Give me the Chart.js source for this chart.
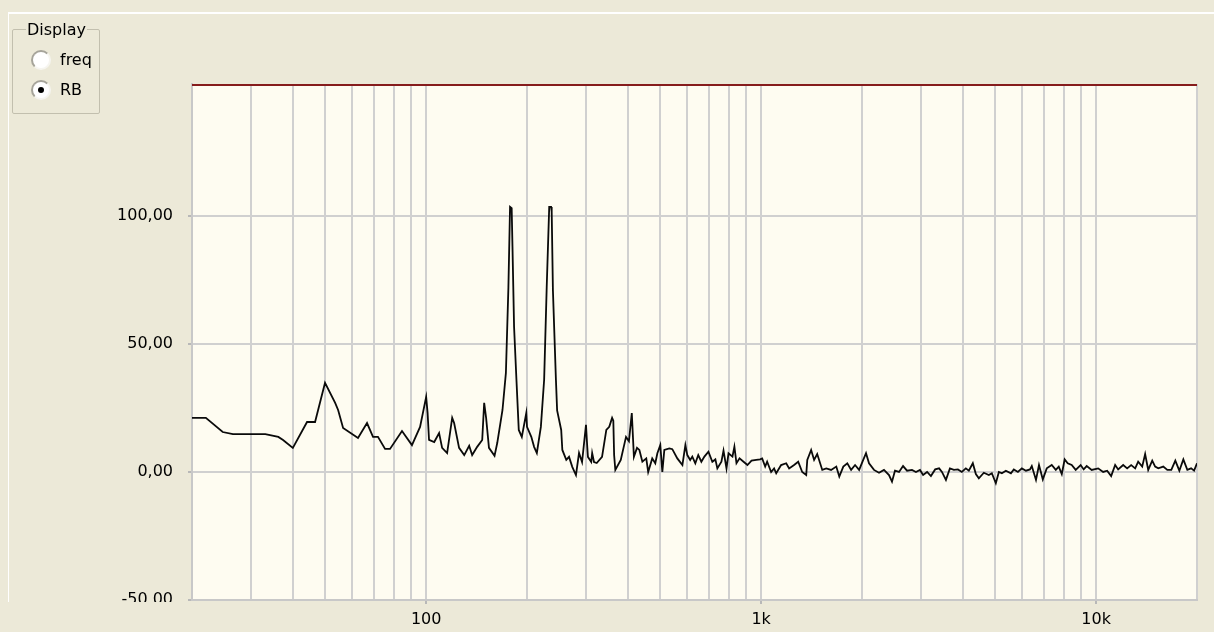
<!DOCTYPE html>
<html lang="en">
<head>
<meta charset="UTF-8">
<title>RB spectrum</title>
<script src="https://cdn.jsdelivr.net/npm/chart.js"></script>
<style>
  body { margin: 0; background: #ECE9D8; font-family: "DejaVu Sans", sans-serif; }
  .wrap { position: relative; width: 1214px; height: 632px; overflow: hidden; }
  .panel { position: absolute; left: 8px; top: 12px; right: 0; bottom: 0;
           border-top: 2px solid #fff; border-left: 1px solid #fff; }
  #chart { position: absolute; left: 0; top: 0; }
  .group { position: absolute; left: 12px; top: 29px; width: 86px; height: 83px;
           border: 1px solid #c2bfae; border-radius: 2px; }
  .group .title { position: absolute; left: 13px; top: -10px; background: #ECE9D8;
                  padding: 0 1px; font-size: 16px; line-height: 19px; color: #000; }
  .radio { position: absolute; left: 18px; width: 16px; height: 16px; border-radius: 50%;
           background: #fff; border: 2px solid; border-color: #a6a49a #f6f5f0 #f6f5f0 #a6a49a; }
  .radio.on::after { content: ""; position: absolute; left: 5px; top: 5px; width: 6px; height: 6px;
                     border-radius: 50%; background: #000; }
  .lbl { position: absolute; left: 47px; font-size: 16px; line-height: 19px; color: #000; }
</style>
</head>
<body>
<div class="wrap">
  <div class="panel"></div>
  <canvas id="chart" width="1214" height="632"></canvas>
  <div class="group">
    <span class="title">Display</span>
    <span class="radio" style="top:20px"></span><span class="lbl" style="top:20px">freq</span>
    <span class="radio on" style="top:50px"></span><span class="lbl" style="top:50px">RB</span>
  </div>
</div>

<script>
  // frequency (Hz) and RB values
  const freq = [20, 22, 24.7, 26.5, 33.1, 36.2, 37.4, 40, 44.1, 46.6, 49.9, 53.5, 54.6, 56.5, 62.6, 66.6, 69.4, 71.8, 75.4, 78,
    84.7, 90.7, 95.9, 100, 101, 102, 105.7, 109.3, 111.6, 115.5, 119.6, 121.2, 125.4, 129.9, 134.4, 137.2, 142, 147, 149, 151,
    154, 160, 163, 169, 173, 176, 178, 180, 181, 183, 186, 189, 193, 199, 200, 206, 210, 214, 220, 225,
    229, 233, 236, 237, 239, 244, 246, 253, 255, 262, 267, 273, 280, 286, 292, 300, 302, 304, 311, 313,
    317, 323, 335, 345, 352, 359, 362, 364, 367, 381, 395, 403, 411, 417, 426, 433, 442, 454, 460, 473,
    483, 490, 500, 507, 514, 532, 543, 562, 582, 594, 602, 614, 623, 636, 649, 663, 677, 696, 715, 730,
    740, 761, 772, 788, 799, 821, 832, 844, 862, 886, 910, 936, 967, 993, 1007, 1028, 1042, 1071, 1093, 1109,
    1147, 1188, 1212, 1254, 1290, 1326, 1363, 1373, 1410, 1439, 1470, 1522, 1565, 1617, 1676, 1711, 1759, 1808, 1856, 1907,
    1961, 2007, 2056, 2099, 2172, 2248, 2326, 2408, 2458, 2509, 2580, 2652, 2726, 2820, 2898, 2979, 3044, 3129, 3212, 3307,
    3398, 3465, 3561, 3660, 3762, 3867, 3972, 4083, 4168, 4284, 4374, 4465, 4621, 4783, 4882, 5018, 5124, 5231, 5377, 5566,
    5678, 5841, 6000, 6172, 6345, 6425, 6613, 6751, 6930, 7121, 7369, 7577, 7734, 7896, 8055, 8223, 8453, 8688, 8990, 9178,
    9370, 9698, 10138, 10494, 10785, 11087, 11395, 11632, 12040, 12374, 12720, 13078, 13348, 13723, 14003, 14303, 14703, 15001, 15324, 15862,
    16309, 16762, 17232, 17713, 18207, 18715, 19206, 19606, 20000];
  const rb = [21.1, 21.1, 15.6, 14.8, 14.8, 13.7, 12.5, 9.4, 19.5, 19.5, 34.8, 27, 24.2, 17.2, 13.3, 19.1, 13.7, 13.7, 9, 9,
    16, 10.5, 17.6, 29.3, 23, 12.5, 11.7, 15.2, 9.4, 7.4, 21.1, 19.1, 9.4, 6.6, 10.2, 6.6, 9.8, 12.5, 27, 21.1,
    9.4, 6.3, 11.3, 24.2, 38.7, 72, 103.5, 103, 88, 56.6, 36, 16.4, 13.7, 23, 17.6, 13.7, 9.8, 7.4, 17.6, 36,
    72, 103.5, 103.5, 101.6, 71, 36, 24, 16.4, 8.6, 4.7, 5.9, 2, -1.2, 7.4, 3.9, 18.4, 11.7, 5.9, 3.9, 7.4,
    3.9, 3.5, 5.9, 16.4, 17.6, 21.1, 20, 6.6, 0.8, 4.7, 13.7, 12, 23, 5.9, 9.4, 8.6, 4, 5.3, 0, 5.3,
    3.4, 7.3, 10.5, 0, 8.6, 9.2, 8.9, 5.3, 2.7, 10.5, 6.6, 4.7, 6, 3.4, 6.6, 4, 6, 7.9, 4, 4.9,
    1.4, 4, 8.3, 1.4, 7.3, 6, 9.9, 3.4, 5.3, 4, 2.7, 4.4, 4.7, 4.9, 5.3, 2.1, 4, 0, 1.4, -0.5,
    2.7, 3.4, 1.4, 2.7, 4, 0, -1.2, 4.7, 8.6, 4.7, 7, 0.8, 1.4, 0.8, 2.1, -1.8, 2.1, 3.4, 0.8, 2.7,
    0.8, 4, 7.3, 3.4, 0.8, -0.3, 0.8, -1.2, -3.8, 0.5, 0, 2.3, 0.5, 0.8, 0, 0.8, -1.2, 0, -1.6, 1,
    1.4, 0, -3.1, 1.4, 0.8, 1, 0, 1.4, 0.5, 3.4, -0.8, -2.5, -0.3, -1.2, -0.5, -4.4, 0, -0.5, 0.5, -0.5,
    1, 0, 1.4, 0.5, 1, 2.3, -3.1, 2.7, -2.9, 1.4, 2.7, 0.8, 2.1, -0.8, 4.9, 3.4, 2.7, 0.8, 2.7, 1,
    2.3, 0.8, 1.4, 0, 0.5, -1.6, 2.7, 1, 2.7, 1.4, 2.7, 1.4, 4, 2.1, 7, 0.8, 4.4, 2.1, 1.4, 2.1,
    0.8, 0.8, 4.4, 0.5, 4.9, 0.8, 1.4, 0.5, 3.4];

  // axis ticks
  const xGrid = [20, 30, 40, 50, 60, 70, 80, 90, 100, 200, 300, 400, 500, 600, 700, 800, 900,
    1000, 2000, 3000, 4000, 5000, 6000, 7000, 8000, 9000, 10000, 20000];
  const xLabelVals = [100, 1000, 10000];
  const xLabelText = ['100', '1k', '10k'];
  const yTicks = [-50, 0, 50, 100];

  const font = { family: 'DejaVu Sans', size: 16 };

  const panelPlugin = {
    id: 'panel',
    beforeDraw(chart) {
      const { ctx, chartArea: a } = chart;
      ctx.save();
      ctx.fillStyle = '#FEFCF1';
      ctx.fillRect(a.left, a.top, a.right - a.left, a.bottom - a.top);
      ctx.restore();
    },
    afterDraw(chart) {
      const { ctx, chartArea: a } = chart;
      ctx.save();
      // dark red top edge
      ctx.strokeStyle = '#861c1c';
      ctx.lineWidth = 2;
      ctx.beginPath();
      ctx.moveTo(a.left, a.top + 1);
      ctx.lineTo(a.right, a.top + 1);
      ctx.stroke();
      // lowest y label is cut off in the original window
      ctx.fillStyle = '#ECE9D8';
      ctx.fillRect(0, a.bottom + 2, a.left - 6, 40);
      ctx.restore();
    }
  };

  const config = {
    type: 'line',
    data: {
      datasets: [{
        data: freq.map((f, i) => ({ x: f, y: rb[i] })),
        borderColor: '#0a0a0a',
        borderWidth: 1.8,
        pointRadius: 0,
        tension: 0
      }]
    },
    options: {
      responsive: false,
      animation: false,
      devicePixelRatio: 1,
      layout: { padding: { top: 84, right: 17, left: 0, bottom: 0 } },
      plugins: { legend: { display: false }, tooltip: { enabled: false } },
      scales: {
        x: {
          type: 'logarithmic',
          min: 20,
          max: 20000,
          afterBuildTicks: s => { s.ticks = xGrid.map(v => ({ value: v })); },
          afterFit: s => { s.height = 32; },
          ticks: {
            autoSkip: false, maxRotation: 0, padding: 6, color: '#000', font: font,
            callback: v => { const i = xLabelVals.indexOf(v); return i < 0 ? '' : xLabelText[i]; }
          },
          grid: {
            color: '#d0d0d0', lineWidth: 2, tickLength: 4,
            tickColor: c => (c.tick && xLabelVals.includes(c.tick.value)) ? '#b8b8b8' : 'rgba(0,0,0,0)'
          },
          border: { color: '#c8c8c8', width: 2 }
        },
        y: {
          min: -50,
          max: 151.5,
          afterBuildTicks: s => { s.ticks = yTicks.map(v => ({ value: v })); },
          afterFit: s => { s.width = 192; },
          ticks: {
            padding: 15, color: '#000', font: font,
            callback: v => v.toFixed(2).replace('.', ',')
          },
          grid: { color: '#d0d0d0', lineWidth: 2, tickLength: 4, tickColor: '#b8b8b8' },
          border: { color: '#c8c8c8', width: 2 }
        }
      }
    },
    plugins: [panelPlugin]
  };

  const ctx = document.getElementById('chart').getContext('2d');
  const myChart = new Chart(ctx, config);
</script>
</body>
</html>
